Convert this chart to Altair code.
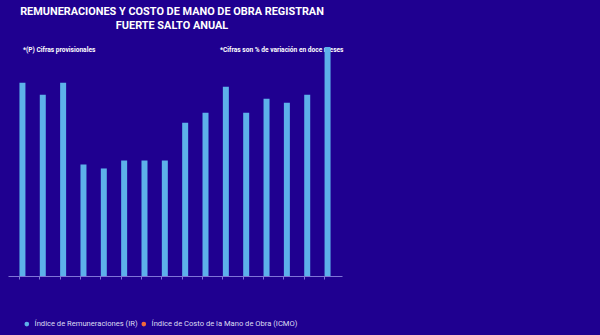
import altair as alt
import pandas as pd

# Monthly periods (16 bars) and annual % variation of the remuneration index
periodos = [
    "Ene", "Feb", "Mar", "Abr", "May", "Jun", "Jul", "Ago",
    "Sep", "Oct", "Nov", "Dic", "Ene ", "Feb ", "Mar ", "Abr (P)",
]
ir_variacion = [9.7, 9.1, 9.7, 5.6, 5.4, 5.8, 5.8, 5.8,
                7.7, 8.2, 9.5, 8.2, 8.9, 8.7, 9.1, 11.5]

series = ["Índice de Remuneraciones (IR)",
          "Índice de Costo de la Mano de Obra (ICMO)"]
colores = ["#5db1ea", "#f4683a"]

titulo_1 = "REMUNERACIONES Y COSTO DE MANO DE OBRA REGISTRAN"
titulo_2 = "FUERTE SALTO ANUAL"
nota_izq = "*(P) Cifras provisionales"
nota_der = "*Cifras son % de variación en doce meses"

BG = "#1f0090"
W, H = 334, 229

df = pd.DataFrame({
    "periodo": periodos,
    "valor": ir_variacion,
    "serie": [series[0]] * len(periodos),
})

bars = alt.Chart(df).mark_bar(size=6).encode(
    x=alt.X(
        "periodo:N", sort=periodos, title=None,
        scale=alt.Scale(paddingInner=0.7, paddingOuter=0.56),
        axis=alt.Axis(labels=False, domainColor="#7f74d6", tickColor="#7f74d6",
                      tickSize=3, domainWidth=1, bandPosition=0),
    ),
    y=alt.Y("valor:Q", title=None, scale=alt.Scale(domain=[0, 11.5], nice=False),
            axis=None),
    color=alt.Color(
        "serie:N", title=None,
        scale=alt.Scale(domain=series, range=colores),
        legend=alt.Legend(
            orient="none", legendX=15, legendY=273, direction="horizontal",
            symbolType="circle", symbolSize=22, symbolStrokeWidth=0,
            labelFontSize=7.6, labelColor="#dcdcf2", labelFont="Roboto",
            labelOffset=4, columnPadding=2, labelLimit=300,
        ),
    ),
)


def texto(t, x, y, size, align="left", weight="bold"):
    return alt.Chart(pd.DataFrame({"t": [t]})).mark_text(
        font="Roboto", fontSize=size, fontWeight=weight, color="white",
        align=align, baseline="middle",
    ).encode(text="t:N", x=alt.value(x), y=alt.value(y))


capas = [
    texto(titulo_1, 164, -35, 10.9, align="center"),
    texto(titulo_2, 164, -21, 10.9, align="center"),
    texto(nota_izq, 15, 3, 6.6),
    texto(nota_der, 212, 3, 6.6),
    bars,
]

chart = alt.layer(*capas).properties(
    width=W, height=H,
    background=BG,
    padding={"left": 8, "top": 47, "right": 600 - 8 - W, "bottom": 335 - 47 - H},
    autosize=alt.AutoSizeParams(type="none"),
).configure_view(stroke=None)

chart.save("out.html", embed_options={"renderer": "svg", "actions": False})
